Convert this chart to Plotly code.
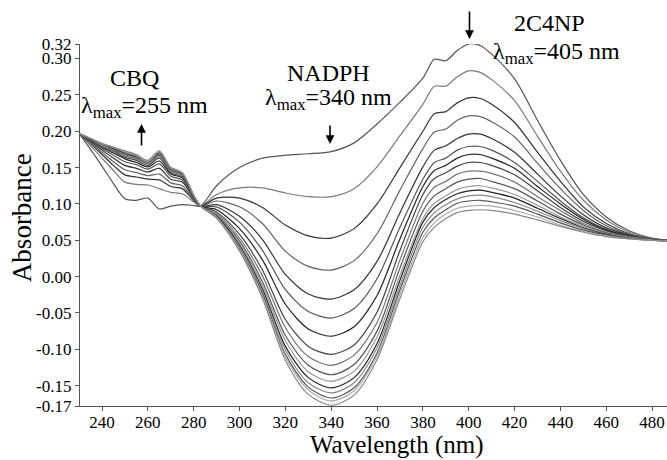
import plotly.graph_objects as go

wavelength = [230, 235, 240, 245, 250, 255, 260, 265, 270, 275, 280, 283,
              290, 300, 310, 320, 330, 340, 350, 360, 370, 380, 385, 390,
              395, 400, 405, 410, 420, 430, 440, 450, 460, 470, 480, 487]

a01 = [0.197, 0.175, 0.152, 0.128, 0.107, 0.105, 0.108, 0.093, 0.097, 0.099, 0.098, 0.097,
       0.125, 0.150, 0.163, 0.167, 0.169, 0.172, 0.184, 0.210, 0.240, 0.273, 0.299, 0.297,
       0.311, 0.320, 0.318, 0.306, 0.272, 0.215, 0.160, 0.113, 0.082, 0.063, 0.053, 0.050]
a02 = [0.197, 0.180, 0.163, 0.146, 0.130, 0.127, 0.126, 0.121, 0.116, 0.114, 0.103, 0.097,
       0.113, 0.122, 0.122, 0.115, 0.110, 0.110, 0.121, 0.151, 0.194, 0.237, 0.262, 0.262,
       0.275, 0.283, 0.281, 0.271, 0.242, 0.193, 0.145, 0.105, 0.078, 0.061, 0.052, 0.050]
a03 = [0.197, 0.183, 0.168, 0.153, 0.140, 0.137, 0.134, 0.133, 0.124, 0.121, 0.105, 0.097,
       0.108, 0.108, 0.095, 0.071, 0.056, 0.053, 0.066, 0.100, 0.150, 0.200, 0.224, 0.227,
       0.239, 0.246, 0.245, 0.237, 0.212, 0.171, 0.131, 0.096, 0.073, 0.059, 0.052, 0.050]
a04 = [0.197, 0.184, 0.171, 0.158, 0.147, 0.143, 0.139, 0.141, 0.129, 0.125, 0.106, 0.097,
       0.104, 0.096, 0.073, 0.035, 0.014, 0.009, 0.022, 0.059, 0.119, 0.176, 0.199, 0.203,
       0.215, 0.221, 0.220, 0.213, 0.192, 0.156, 0.121, 0.091, 0.070, 0.058, 0.052, 0.050]
a05 = [0.197, 0.186, 0.174, 0.163, 0.153, 0.149, 0.144, 0.149, 0.134, 0.130, 0.108, 0.097,
       0.099, 0.083, 0.051, 0.003, -0.024, -0.031, -0.018, 0.021, 0.088, 0.151, 0.174, 0.180,
       0.190, 0.196, 0.196, 0.190, 0.171, 0.141, 0.111, 0.085, 0.067, 0.057, 0.051, 0.049]
a06 = [0.197, 0.187, 0.176, 0.167, 0.158, 0.154, 0.148, 0.155, 0.138, 0.133, 0.109, 0.097,
       0.096, 0.075, 0.036, -0.018, -0.048, -0.057, -0.044, -0.003, 0.068, 0.134, 0.157, 0.163,
       0.174, 0.179, 0.179, 0.174, 0.157, 0.131, 0.104, 0.081, 0.065, 0.056, 0.051, 0.049]
a07 = [0.197, 0.188, 0.178, 0.170, 0.162, 0.157, 0.151, 0.159, 0.141, 0.136, 0.110, 0.097,
       0.092, 0.066, 0.023, -0.038, -0.072, -0.082, -0.069, -0.026, 0.052, 0.124, 0.146, 0.153,
       0.163, 0.168, 0.168, 0.163, 0.149, 0.124, 0.100, 0.079, 0.064, 0.056, 0.051, 0.049]
a08 = [0.197, 0.188, 0.179, 0.172, 0.164, 0.160, 0.153, 0.163, 0.143, 0.137, 0.110, 0.097,
       0.089, 0.058, 0.009, -0.059, -0.096, -0.107, -0.094, -0.049, 0.036, 0.113, 0.135, 0.143,
       0.152, 0.157, 0.157, 0.153, 0.140, 0.118, 0.095, 0.076, 0.063, 0.055, 0.051, 0.049]
a09 = [0.197, 0.189, 0.180, 0.173, 0.166, 0.162, 0.155, 0.165, 0.145, 0.139, 0.111, 0.097,
       0.087, 0.053, 0.001, -0.070, -0.110, -0.122, -0.108, -0.063, 0.023, 0.101, 0.123, 0.131,
       0.141, 0.145, 0.145, 0.142, 0.130, 0.110, 0.091, 0.073, 0.061, 0.055, 0.051, 0.049]
a10 = [0.197, 0.189, 0.181, 0.174, 0.168, 0.163, 0.156, 0.167, 0.146, 0.140, 0.111, 0.097,
       0.085, 0.049, -0.007, -0.081, -0.122, -0.135, -0.121, -0.075, 0.012, 0.090, 0.111, 0.121,
       0.130, 0.134, 0.135, 0.131, 0.121, 0.104, 0.086, 0.071, 0.060, 0.054, 0.051, 0.049]
a11 = [0.197, 0.189, 0.181, 0.175, 0.169, 0.164, 0.157, 0.168, 0.147, 0.140, 0.111, 0.097,
       0.084, 0.046, -0.012, -0.088, -0.131, -0.144, -0.130, -0.083, 0.002, 0.080, 0.101, 0.111,
       0.120, 0.124, 0.125, 0.122, 0.113, 0.098, 0.082, 0.069, 0.059, 0.054, 0.050, 0.049]
a12 = [0.197, 0.189, 0.182, 0.176, 0.170, 0.165, 0.158, 0.169, 0.148, 0.141, 0.111, 0.097,
       0.083, 0.043, -0.017, -0.096, -0.139, -0.153, -0.139, -0.092, -0.005, 0.075, 0.095, 0.106,
       0.114, 0.118, 0.119, 0.116, 0.108, 0.094, 0.080, 0.067, 0.058, 0.053, 0.050, 0.049]
a13 = [0.197, 0.190, 0.182, 0.177, 0.171, 0.166, 0.158, 0.171, 0.148, 0.142, 0.112, 0.097,
       0.082, 0.041, -0.021, -0.101, -0.146, -0.160, -0.146, -0.098, -0.012, 0.068, 0.088, 0.099,
       0.107, 0.111, 0.112, 0.110, 0.102, 0.090, 0.077, 0.066, 0.057, 0.053, 0.050, 0.049]
a14 = [0.197, 0.190, 0.183, 0.177, 0.172, 0.167, 0.159, 0.171, 0.149, 0.142, 0.112, 0.097,
       0.081, 0.038, -0.024, -0.107, -0.152, -0.167, -0.153, -0.105, -0.018, 0.061, 0.081, 0.092,
       0.101, 0.104, 0.105, 0.103, 0.097, 0.086, 0.074, 0.064, 0.057, 0.053, 0.050, 0.049]
a15 = [0.197, 0.190, 0.183, 0.178, 0.172, 0.167, 0.159, 0.172, 0.150, 0.143, 0.112, 0.097,
       0.081, 0.037, -0.027, -0.110, -0.156, -0.171, -0.157, -0.109, -0.024, 0.054, 0.074, 0.086,
       0.094, 0.097, 0.098, 0.097, 0.091, 0.082, 0.071, 0.062, 0.056, 0.052, 0.050, 0.049]
a16 = [0.197, 0.190, 0.183, 0.178, 0.173, 0.168, 0.160, 0.173, 0.150, 0.143, 0.112, 0.097,
       0.080, 0.035, -0.030, -0.115, -0.162, -0.177, -0.163, -0.114, -0.030, 0.048, 0.068, 0.080,
       0.088, 0.091, 0.092, 0.091, 0.086, 0.078, 0.069, 0.061, 0.055, 0.052, 0.050, 0.049]

spectra = [a01, a02, a03, a04, a05, a06, a07, a08, a09, a10, a11, a12, a13, a14, a15, a16]
line_colors = ["#555555", "#7a7a7a", "#333333", "#666666", "#333333", "#555555",
               "#222222", "#444444", "#777777", "#555555", "#999999", "#222222",
               "#888888", "#555555", "#aaaaaa", "#888888"]

y_tick_vals = [-0.178, -0.15, -0.10, -0.05, 0.00, 0.05, 0.10, 0.15, 0.20, 0.25, 0.30, 0.32]
y_tick_text = ["-0.17", "-0.15", "-0.10", "-0.05", "0.00", "0.05", "0.10", "0.15",
               "0.20", "0.25", "0.30", "0.32"]
x_tick_vals = [240, 260, 280, 300, 320, 340, 360, 380, 400, 420, 440, 460, 480]

fig = go.Figure()
for vals, col in zip(spectra, line_colors):
    fig.add_trace(go.Scatter(x=wavelength, y=vals, mode="lines",
                             line=dict(color=col, width=1.2, shape="spline", smoothing=0.8),
                             showlegend=False, hoverinfo="skip"))

font_family = "Liberation Serif, DejaVu Serif, serif"
fig.update_layout(
    width=667, height=460,
    margin=dict(l=80, r=0, t=44, b=54),
    paper_bgcolor="white", plot_bgcolor="white",
    font=dict(family=font_family, color="black", size=17),
    xaxis=dict(range=[230.4, 486.5], tickvals=x_tick_vals, showgrid=False, zeroline=False,
               showline=True, linecolor="#555", linewidth=1.2, ticks="outside", ticklen=4,
               tickcolor="#555", tickfont=dict(family=font_family, size=17),
               ticklabelstandoff=-4),
    yaxis=dict(range=[-0.178, 0.320], tickvals=y_tick_vals, ticktext=y_tick_text,
               showgrid=False, zeroline=False, showline=True, linecolor="#555", linewidth=1.2,
               ticks="outside", ticklen=4, tickcolor="#555",
               tickfont=dict(family=font_family, size=17)),
)

# axis titles
fig.add_annotation(x=0.54, y=-0.108, xref="paper", yref="paper", text="Wavelength (nm)",
                   showarrow=False, font=dict(family=font_family, size=25, color="black"),
                   xanchor="center", yanchor="middle")
fig.add_annotation(x=-0.0988, y=0.519, xref="paper", yref="paper", text="Absorbance",
                   textangle=-90, showarrow=False,
                   font=dict(family=font_family, size=27, color="black"),
                   xanchor="center", yanchor="middle")

ann_font = dict(family=font_family, size=24, color="black")
texts = [
    ("CBQ", 0.092, 0.906),
    ("λ<sub>max</sub>=255 nm", 0.1107, 0.826),
    ("NADPH", 0.424, 0.920),
    ("λ<sub>max</sub>=340 nm", 0.4225, 0.848),
    ("2C4NP", 0.799, 1.058),
    ("λ<sub>max</sub>=405 nm", 0.8126, 0.975),
]
for t, x, y in texts:
    fig.add_annotation(x=x, y=y, xref="paper", yref="paper", text=t, showarrow=False,
                       font=ann_font, xanchor="center", yanchor="middle")

arrows = [
    (0.1048, 0.779, 0, 23),
    (0.4259, 0.7238, 0, -20),
    (0.6635, 1.0138, 0, -29),
]
for x, y, ax, ay in arrows:
    fig.add_annotation(x=x, y=y, xref="paper", yref="paper", ax=ax, ay=ay, text="",
                       showarrow=True, arrowhead=2, arrowsize=1.1, arrowwidth=1.6,
                       arrowcolor="black", standoff=0)

fig.write_html("out.html")
